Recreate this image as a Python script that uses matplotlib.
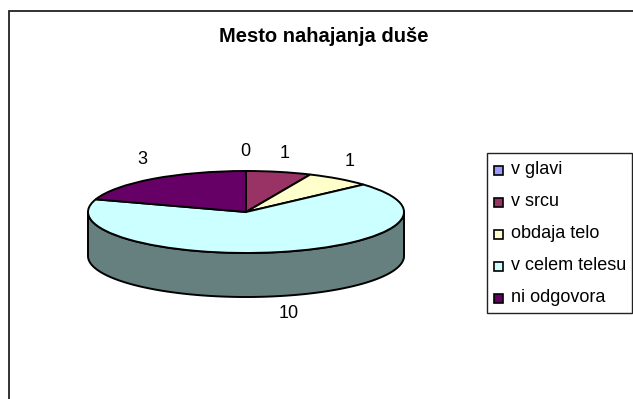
import numpy as np
import matplotlib
matplotlib.use('Agg')
import matplotlib.pyplot as plt
from matplotlib.patches import Rectangle

plt.rcParams['font.family'] = ['Liberation Sans', 'DejaVu Sans']

title = 'Mesto nahajanja duše'
categories = ['v glavi', 'v srcu', 'obdaja telo', 'v celem telesu', 'ni odgovora']
counts = [0, 1, 1, 10, 3]
colors = ['#9999FF', '#993366', '#FFFFCC', '#CCFFFF', '#660066']
side_colors = ['#4C4C80', '#4C1933', '#808066', '#668080', '#330033']

W, H = 633, 399
# pie geometry in pixels
CX, CY, RX, RY, DEPTH = 246, 212, 158, 41, 44

fig = plt.figure(figsize=(W / 100, H / 100), dpi=100, facecolor='white')

# overlay in pixel coordinates for frame, title, labels and legend
bg = fig.add_axes([0, 0, 1, 1])
bg.set_xlim(0, W)
bg.set_ylim(H, 0)
bg.axis('off')
bg.plot([8.5, 8.5, W], [H, 10.5, 10.5], color='#222222', lw=1.3, solid_joinstyle='miter')
bg.text(324, 36, title, fontsize=14.5, fontweight='bold', ha='center', va='center')

# axes scaled so one data unit is RX wide and RY tall, which makes the pie elliptical
span_x, top, bottom = 1.25, 1.25, 1.25 + DEPTH / RY + 0.1
ax_w, ax_h = 2 * span_x * RX, (top + bottom) * RY
ax = fig.add_axes([(CX - span_x * RX) / W, 1 - (CY + bottom * RY) / H, ax_w / W, ax_h / H])

depth = DEPTH / RY
total = sum(counts)
start = 0
for count, side in zip(counts, side_colors):
    # angles run clockwise from the top of the pie, only the front half has a wall
    end = start + 360 * count / total
    a0, a1 = max(start, 90), min(end, 270)
    if a1 > a0:
        t = np.radians(np.linspace(a0, a1, 200))
        x, y = np.sin(t), np.cos(t)
        ax.fill(np.r_[x, x[::-1]], np.r_[y, y[::-1] - depth], facecolor=side,
                edgecolor='black', lw=1.4, joinstyle='round')
    start = end

ax.pie(counts, colors=colors, startangle=90, counterclock=False, radius=1,
       wedgeprops={'edgecolor': 'black', 'linewidth': 1.4})
ax.set_aspect('auto')
ax.set_xlim(-span_x, span_x)
ax.set_ylim(-bottom, top)
ax.axis('off')

# value labels around the pie
label_pos = [(245, 152), (285, 153), (350, 161), (289, 313), (142, 160)]
for count, (lx, ly) in zip(counts, label_pos):
    ax.text(lx, ly, str(count), transform=bg.transData, fontsize=13, ha='center', va='center')

# legend box
bg.add_patch(Rectangle((486.5, 153), 145.5, 160, facecolor='white', edgecolor='#222222', lw=1))
for i, (name, color) in enumerate(zip(categories, colors)):
    ly = 170 + i * 32
    bg.add_patch(Rectangle((494, ly - 4.5), 9, 9, facecolor=color, edgecolor='black', lw=1.2))
    bg.text(511, ly, name, fontsize=13, ha='left', va='center')

fig.savefig('out.png', dpi=100)
